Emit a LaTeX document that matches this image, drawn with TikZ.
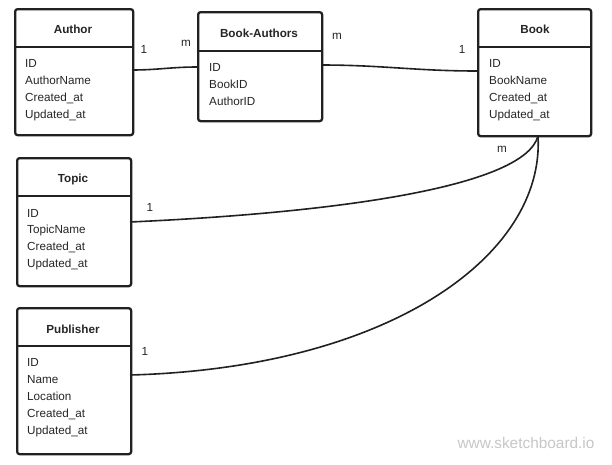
\documentclass[tikz,border=0pt]{standalone}
\usepackage{fontspec}
\setmainfont{Liberation Sans}
\begin{document}
\begin{tikzpicture}[x=1pt,y=-1pt,
  ent/.style={draw=black!87, line width=2.3pt, rounded corners=2.5pt, fill=white, anchor=north west, inner sep=0pt},
  sep/.style={draw=black!87, line width=2.3pt},
  ttl/.style={font=\fontsize{11.7}{14}\selectfont\bfseries, text=black!85, inner sep=0pt},
  fld/.style={font=\fontsize{11.7}{14}\selectfont, text=black!85, anchor=base west, inner sep=0pt},
  card/.style={font=\fontsize{11.7}{14}\selectfont, text=black!85, inner sep=0pt},
  rel/.style={draw=black!87, line width=1.6pt}]
\useasboundingbox[fill=white] (0,0) rectangle (612,464);
% Author
\node[ent, minimum width=118pt, minimum height=126pt] (author) at (14,8) {};
\draw[sep] (14,47) -- (132,47);
\node[ttl] (authorT) at (73,29) {Author};
\node[fld] (a1) at (25,67) {ID};
\node[fld] (a2) at (25,84) {AuthorName};
\node[fld] (a3) at (25,101) {Created\_at};
\node[fld] (a4) at (25,118) {Updated\_at};
% Book-Authors
\node[ent, minimum width=124pt, minimum height=109pt] (ba) at (197,11) {};
\draw[sep] (197,51) -- (321,51);
\node[ttl] (baT) at (259,33) {Book-Authors};
\node[fld] (b1) at (209,71) {ID};
\node[fld] (b2) at (209,88) {BookID};
\node[fld] (b3) at (209,105) {AuthorID};
% Book
\node[ent, minimum width=113pt, minimum height=127pt] (book) at (477,8) {};
\draw[sep] (477,47) -- (590,47);
\node[ttl] (bookT) at (535,29) {Book};
\node[fld] (k1) at (489,67) {ID};
\node[fld] (k2) at (489,84) {BookName};
\node[fld] (k3) at (489,101) {Created\_at};
\node[fld] (k4) at (489,118) {Updated\_at};
% Topic
\node[ent, minimum width=114pt, minimum height=128pt] (topic) at (16,157) {};
\draw[sep] (16,196) -- (130,196);
\node[ttl] (topicT) at (73,179) {Topic};
\node[fld] (t1) at (27,217) {ID};
\node[fld] (t2) at (27,233) {TopicName};
\node[fld] (t3) at (27,250) {Created\_at};
\node[fld] (t4) at (27,267) {Updated\_at};
% Publisher
\node[ent, minimum width=114pt, minimum height=146pt] (pub) at (16,307) {};
\draw[sep] (16,346) -- (130,346);
\node[ttl] (pubT) at (73,329) {Publisher};
\node[fld] (p1) at (27,366) {ID};
\node[fld] (p2) at (27,383) {Name};
\node[fld] (p3) at (27,400) {Location};
\node[fld] (p4) at (27,417) {Created\_at};
\node[fld] (p5) at (27,434) {Updated\_at};
% connection points
\coordinate (aE) at (132,70);
\coordinate (baW) at (197,67);
\coordinate (baE) at (321,65);
\coordinate (bkW) at (477,71);
\coordinate (bkS) at (538,136);
\coordinate (tE) at (130,222);
\coordinate (pE) at (130,375);
% relations
\draw[rel] (aE) to[out=0,in=180] (baW);
\draw[rel] (baE) to[out=0,in=180] (bkW);
\draw[rel] (tE) .. controls (350,212) and (525,185) .. (bkS);
\draw[rel] (pE) .. controls (390,368) and (545,255) .. (bkS);
% cardinalities
\node[card] (c1) at (144,49) {1};
\node[card] (c2) at (186,43) {m};
\node[card] (c3) at (337,36) {m};
\node[card] (c4) at (462,49) {1};
\node[card] (c5) at (502,149) {m};
\node[card] (c6) at (150,207) {1};
\node[card] (c7) at (145,351) {1};
% watermark
\node[font=\fontsize{15.4}{18}\selectfont, text=black!22, inner sep=0pt] (wm) at (526,443) {www.sketchboard.io};
\end{tikzpicture}
\end{document}
